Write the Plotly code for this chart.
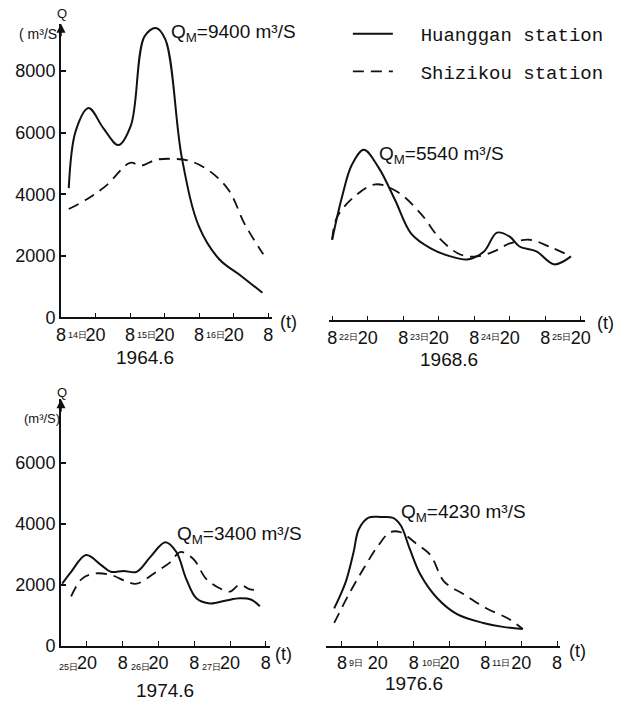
import plotly.graph_objects as go

W, H = 625, 708
FONT = "Liberation Sans, Arial, sans-serif"
MONO = "Liberation Mono, DejaVu Sans Mono, Courier New, monospace"
INK = "#111111"

# ---- 1964.6 : hours after 08:00 on the 14th ----
h64_hg = [2.7, 5.1, 9.6, 14.7, 19.9, 24.3, 29.0, 33.0, 36.3, 42.0, 48.0, 55.0, 62.7, 70.0]
q64_hg = [4200, 6050, 6800, 6150, 5600, 6240, 9120, 9400, 9020, 5180, 2940, 1890, 1340, 800]
h64_sz = [2.7, 9.0, 15.8, 24.0, 27.8, 33.0, 38.7, 44.5, 51.4, 58.3, 63.8, 70.3]
q64_sz = [3520, 3840, 4290, 5020, 4930, 5120, 5150, 5090, 4770, 4130, 3040, 2050]

# ---- 1968.6 : hours after 08:00 on the 22nd ----
h68_hg = [0.0, 3.3, 6.7, 10.7, 15.7, 21.3, 26.7, 33.3, 40.0, 45.7, 51.3, 55.7, 60.0, 63.3, 69.0, 75.0, 80.7]
q68_hg = [2620, 4000, 5060, 5540, 4960, 3900, 2820, 2340, 2080, 1980, 2240, 2850, 2720, 2400, 2240, 1820, 2080]
h68_sz = [0.0, 1.7, 8.0, 14.7, 22.3, 30.0, 36.7, 43.3, 49.0, 54.7, 60.0, 66.7, 73.3, 80.7]
q68_sz = [2620, 3360, 4060, 4420, 4160, 3460, 2620, 2140, 2080, 2240, 2500, 2620, 2400, 2080]

# ---- 1974.6 : hours after 08:00 on the 25th ----
h74_hg = [3.7, 6.7, 11.7, 16.7, 20.0, 24.3, 28.7, 33.3, 38.3, 42.0, 45.3, 48.7, 53.3, 58.7, 63.3, 67.0, 70.0]
q74_hg = [2040, 2430, 2980, 2660, 2430, 2460, 2430, 2920, 3400, 3080, 2200, 1560, 1390, 1490, 1560, 1520, 1300]
h74_sz = [6.7, 10.3, 14.3, 20.0, 25.3, 28.7, 35.3, 40.0, 43.3, 47.7, 52.0, 56.7, 60.0, 63.3, 66.7, 70.0]
q74_sz = [1620, 2200, 2370, 2330, 2110, 2040, 2430, 2750, 3080, 2850, 2200, 1880, 1780, 2010, 1850, 1850]

# ---- 1976.6 : hours after 08:00 on the 9th ----
h76_hg = [-2.6, 1.3, 3.9, 5.6, 8.9, 13.2, 17.1, 19.7, 22.7, 26.3, 31.9, 38.5, 47.3, 53.9, 60.5]
q76_hg = [1230, 2110, 3080, 3820, 4210, 4230, 4200, 3950, 3180, 2330, 1560, 1040, 750, 620, 550]
h76_sz = [-2.6, 2.3, 7.2, 12.2, 16.1, 19.7, 24.3, 29.6, 34.2, 40.8, 48.3, 55.9, 60.5]
q76_sz = [750, 1690, 2530, 3300, 3730, 3730, 3400, 2980, 2110, 1690, 1230, 880, 550]

# tick labels (clock hour) and day labels
tick_h_64 = [0, 12, 24, 36, 48, 60, 72]
tick_t_64 = ["8", "20", "8", "20", "8", "20", "8"]
tick_h_68 = [0, 12, 24, 36, 48, 60, 72, 84]
tick_t_68 = ["8", "20", "8", "20", "8", "20", "8", "20"]
tick_h_74 = [12, 24, 36, 48, 60, 72]
tick_t_74 = ["20", "8", "20", "8", "20", "8"]
tick_h_76 = [0, 12, 24, 36, 48, 60, 72]
tick_t_76 = ["8", "20", "8", "20", "8", "20", "8"]

# day labels sit just right of the 08:00 tick of each day: (hour, text, pixel shift)
days_64 = [(0, "14日", 5), (24, "15日", 5), (48, "16日", 5)]
days_68 = [(0, "22日", 5), (24, "23日", 5), (48, "24日", 5), (72, "25日", 5)]
days_74 = [(3.3, "25日", -4), (24, "26日", 6), (48, "27日", 6)]
days_76 = [(0, "9日", 5), (24, "10日", 6), (48, "11日", 5)]

peaks = ["9400", "5540", "3400", "4230"]
years = ["1964.6", "1968.6", "1974.6", "1976.6"]


def px(x):
    return x / W


def py(y):
    return 1 - y / H


fig = go.Figure()

panels = [
    (h64_hg, q64_hg, h64_sz, q64_sz, ""),
    (h68_hg, q68_hg, h68_sz, q68_sz, "2"),
    (h74_hg, q74_hg, h74_sz, q74_sz, "3"),
    (h76_hg, q76_hg, h76_sz, q76_sz, "4"),
]

GAP = "\u00a0\u00a0"  # extra room between the legend key and its text

for i, (hh, qh, hs, qs, sfx) in enumerate(panels):
    fig.add_trace(go.Scatter(
        x=hh, y=qh, mode="lines", name=GAP + "Huanggan station", legendgroup="hg",
        line=dict(color=INK, width=2, shape="spline", smoothing=1.0),
        xaxis="x" + sfx, yaxis="y" + sfx, showlegend=(i == 0), hoverinfo="skip"))
    fig.add_trace(go.Scatter(
        x=hs, y=qs, mode="lines", name=GAP + "Shizikou station", legendgroup="sz",
        line=dict(color=INK, width=1.8, shape="spline", smoothing=1.0, dash="11px,7px"),
        xaxis="x" + sfx, yaxis="y" + sfx, showlegend=(i == 0), hoverinfo="skip"))

xcommon = dict(showgrid=False, zeroline=False, showline=True, linecolor=INK, linewidth=1.5,
               ticks="inside", ticklen=5, tickwidth=1.2, tickcolor=INK, tickmode="array",
               tickfont=dict(family=FONT, size=18, color=INK), fixedrange=True)
ycommon = dict(showgrid=False, zeroline=False, showline=True, linecolor=INK, linewidth=2,
               ticks="inside", ticklen=5, tickwidth=1.5, tickcolor=INK,
               tickfont=dict(family=FONT, size=18, color=INK), fixedrange=True)

fig.update_layout(
    width=W, height=H, margin=dict(l=0, r=0, t=0, b=0),
    paper_bgcolor="white", plot_bgcolor="white",
    showlegend=True,
    legend=dict(x=px(349), y=py(15), xanchor="left", yanchor="top",
                font=dict(family=MONO, size=19, color=INK), bgcolor="rgba(0,0,0,0)",
                itemwidth=40, tracegroupgap=10, traceorder="grouped"),
    xaxis=dict(xcommon, domain=[px(57), px(272)], range=[0, 73.4], anchor="y",
               tickvals=tick_h_64, ticktext=tick_t_64),
    yaxis=dict(ycommon, domain=[py(322), py(24)], range=[0, 9540], anchor="x",
               tickvals=[0, 2000, 4000, 6000, 8000]),
    xaxis2=dict(xcommon, domain=[px(330), px(590)], range=[-1.0, 85.3], anchor="y2",
                tickvals=tick_h_68, ticktext=tick_t_68),
    yaxis2=dict(domain=[py(325), py(27)], range=[0, 9540], anchor="x2", visible=False,
                fixedrange=True),
    xaxis3=dict(xcommon, domain=[px(57), px(270)], range=[3.3, 73.5], anchor="y3",
                tickvals=tick_h_74, ticktext=tick_t_74),
    yaxis3=dict(ycommon, domain=[py(655), py(405)], range=[0, 8100], anchor="x3",
                tickvals=[0, 2000, 4000, 6000]),
    xaxis4=dict(xcommon, domain=[px(327), px(565)], range=[-5.26, 73.0], anchor="y4",
                tickvals=tick_h_76, ticktext=tick_t_76),
    yaxis4=dict(domain=[py(655), py(405)], range=[0, 8100], anchor="x4", visible=False,
                fixedrange=True),
)

ann = []
txt = dict(family=FONT, color=INK)

# arrowheads on the two drawn Q axes
for ya, xa in (("y", "x"), ("y3", "x3")):
    ann.append(dict(x=0, y=1, xref=xa + " domain", yref=ya + " domain", text="",
                    showarrow=True, ax=0, ay=14, arrowhead=2, arrowsize=1.2,
                    arrowwidth=1.5, arrowcolor=INK))

# Q and unit labels
ann += [
    dict(x=px(58), y=py(14), xref="paper", yref="paper", text="Q", showarrow=False,
         font=dict(txt, size=13), xanchor="center", yanchor="middle"),
    dict(x=px(34), y=py(34), xref="paper", yref="paper", text="( m³/S", showarrow=False,
         font=dict(txt, size=14), xanchor="center", yanchor="middle"),
    dict(x=px(58), y=py(398), xref="paper", yref="paper", text="Q", showarrow=False,
         font=dict(txt, size=13), xanchor="center", yanchor="middle"),
    dict(x=px(38), y=py(424), xref="paper", yref="paper", text="(m³/S)", showarrow=False,
         font=dict(txt, size=13), xanchor="center", yanchor="middle"),
]

# peak discharge labels
peak_pos = [(167, 33), (379, 157), (173, 543), (401, 520)]
for (x0, y0), val in zip(peak_pos, peaks):
    ann.append(dict(x=px(x0), y=py(y0), xref="paper", yref="paper",
                    text=f"Q<sub>M</sub>={val} m³/S", showarrow=False,
                    font=dict(txt, size=19), xanchor="left", yanchor="middle"))

# time axis end labels
for x0, y0 in ((289, 327), (611, 328), (283, 663), (583, 660)):
    ann.append(dict(x=px(x0), y=py(y0), xref="paper", yref="paper", text="(t)",
                    showarrow=False, font=dict(txt, size=18), xanchor="center",
                    yanchor="middle"))

# day labels, subscript-style beside the 08:00 ticks
for xa, days, y0 in (("x", days_64, 340), ("x2", days_68, 342),
                     ("x3", days_74, 677), ("x4", days_76, 673)):
    for h, lab, shift in days:
        ann.append(dict(x=h, y=py(y0), xref=xa, yref="paper", text=lab, showarrow=False,
                        font=dict(txt, size=9), xanchor="left", yanchor="middle",
                        xshift=shift))

# year / month captions
for (x0, y0), lab in zip(((143, 363), (452, 365), (163, 700), (416, 693)), years):
    ann.append(dict(x=px(x0), y=py(y0), xref="paper", yref="paper", text=lab,
                    showarrow=False, font=dict(txt, size=19), xanchor="center",
                    yanchor="middle"))

fig.update_layout(annotations=ann)

fig.write_html("out.html")
